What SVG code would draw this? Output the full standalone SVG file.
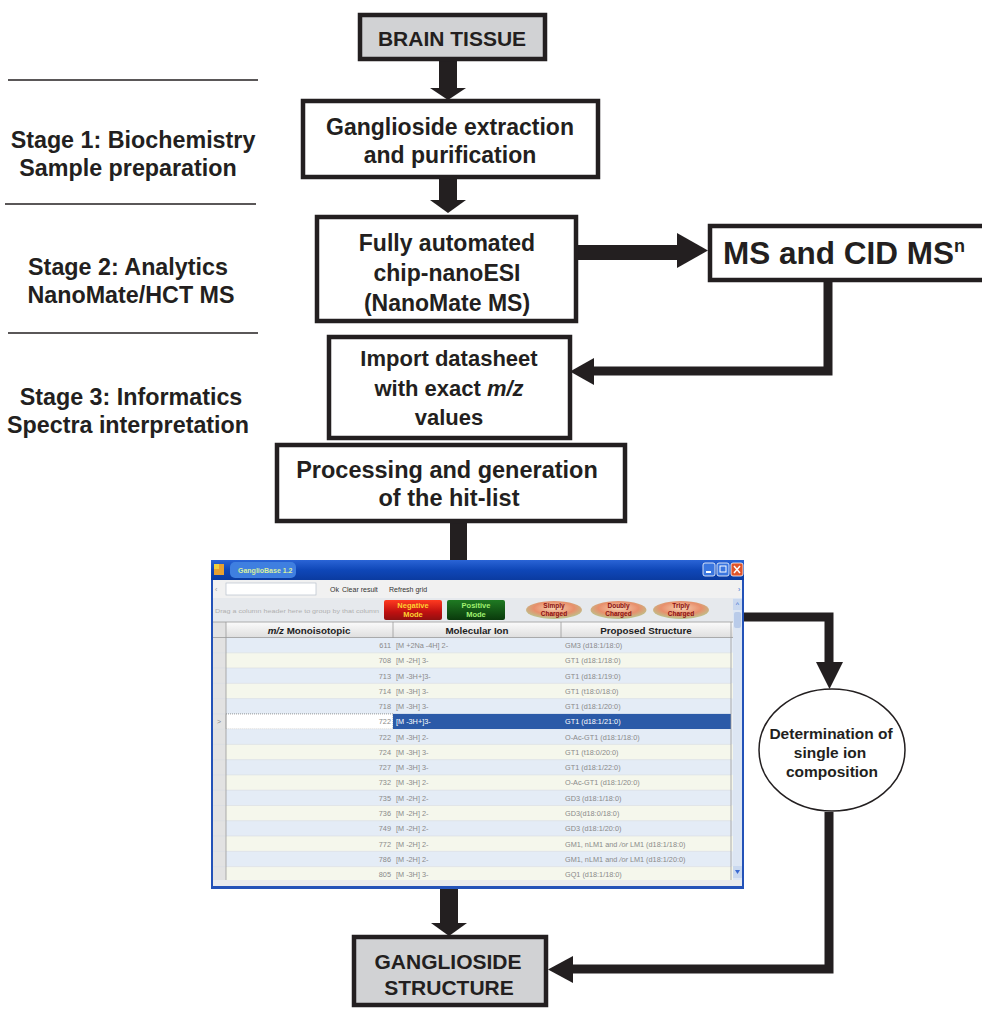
<svg xmlns="http://www.w3.org/2000/svg" width="982" height="1009" viewBox="0 0 982 1009">
<defs>
<style>
.box{fill:#ffffff;stroke:#231f20;stroke-width:4.5}
.gbox{fill:#d1d2d4;stroke:#231f20;stroke-width:4.5}
.t{font-family:"Liberation Sans",Arial,sans-serif;font-weight:bold;fill:#231f20;text-anchor:middle}
.stage{font-family:"Liberation Sans",Arial,sans-serif;font-weight:bold;fill:#231f20;text-anchor:middle;font-size:23.3px}
.sep{stroke:#231f20;stroke-width:1.3}
.con{fill:none;stroke:#231f20;stroke-width:9}
.fill{fill:#231f20}
.ui{font-family:"Liberation Sans",Arial,sans-serif}
.row{font-family:"Liberation Sans",Arial,sans-serif;font-size:7.3px;fill:#8a8a8a}
.rowsel{font-family:"Liberation Sans",Arial,sans-serif;font-size:7.3px;fill:#ffffff}
.hdr{font-family:"Liberation Sans",Arial,sans-serif;font-size:9.8px;font-weight:bold;fill:#222;text-anchor:middle}
.rb{fill:#e4ecf6}
.rc{fill:#f5f7ec}
.rl{stroke:#d6dbe2;stroke-width:0.6}
</style>
<linearGradient id="title" x1="0" y1="0" x2="0" y2="1">
<stop offset="0" stop-color="#2a64d6"/><stop offset="0.5" stop-color="#0f47b8"/><stop offset="1" stop-color="#0b3ba0"/>
</linearGradient>
<linearGradient id="neg" x1="0" y1="0" x2="0" y2="1">
<stop offset="0" stop-color="#ff3a20"/><stop offset="0.6" stop-color="#c01010"/><stop offset="1" stop-color="#901010"/>
</linearGradient>
<linearGradient id="pos" x1="0" y1="0" x2="0" y2="1">
<stop offset="0" stop-color="#1f7a22"/><stop offset="1" stop-color="#0a3a0c"/>
</linearGradient>
<radialGradient id="pill" cx="0.5" cy="0.4" r="0.6">
<stop offset="0" stop-color="#f6d0b0"/><stop offset="0.6" stop-color="#e88f6c"/><stop offset="1" stop-color="#b8c890"/>
</radialGradient>
<linearGradient id="hdrg" x1="0" y1="0" x2="0" y2="1">
<stop offset="0" stop-color="#fbfbfb"/><stop offset="1" stop-color="#dedede"/>
</linearGradient>
</defs>
<rect width="982" height="1009" fill="#ffffff"/>

<g id="stages">
<line class="sep" x1="8" y1="80" x2="258" y2="80"/>
<line class="sep" x1="5" y1="204" x2="256" y2="204"/>
<line class="sep" x1="8" y1="333" x2="258" y2="333"/>
<text class="stage" x="133" y="148">Stage 1: Biochemistry</text>
<text class="stage" x="128" y="176">Sample preparation</text>
<text class="stage" x="128" y="275">Stage 2: Analytics</text>
<text class="stage" x="131" y="303">NanoMate/HCT MS</text>
<text class="stage" x="131" y="405">Stage 3: Informatics</text>
<text class="stage" x="128" y="433">Spectra interpretation</text>
</g>

<g id="connectors">
<rect class="fill" x="439" y="61" width="18" height="28"/>
<polygon class="fill" points="430,88 466,88 448,100"/>
<rect class="fill" x="439" y="179" width="18" height="22"/>
<polygon class="fill" points="430,200 466,200 448,213"/>
<rect class="fill" x="578" y="245" width="100" height="15"/>
<polygon class="fill" points="677,233 677,268 708,250.5"/>
<path class="con" d="M828 282 V371 H590"/>
<polygon class="fill" points="594,358 594,385 570,371.5"/>
<rect class="fill" x="450" y="523" width="17" height="38"/>
<path class="con" d="M744 617 H829 V666"/>
<polygon class="fill" points="816,662 843,662 829.5,689"/>
<path class="con" d="M829 812 V969 H570"/>
<polygon class="fill" points="573,956 573,983 548,969.5"/>
<rect class="fill" x="440" y="889" width="18" height="35"/>
<polygon class="fill" points="431,923 467,923 449,936"/>
</g>

<g id="brain-tissue">
<rect class="gbox" x="360" y="15" width="185" height="44"/>
<text class="t" x="452" y="46" font-size="21">BRAIN TISSUE</text>
</g>

<g id="extraction">
<rect class="box" x="303" y="101" width="295" height="76"/>
<text class="t" x="450" y="135" font-size="23">Ganglioside extraction</text>
<text class="t" x="450" y="163" font-size="23">and purification</text>
</g>

<g id="nanoesi">
<rect class="box" x="317" y="217" width="259" height="104"/>
<text class="t" x="447" y="251" font-size="23">Fully automated</text>
<text class="t" x="447" y="281" font-size="23">chip-nanoESI</text>
<text class="t" x="447" y="311" font-size="23">(NanoMate MS)</text>
</g>

<g id="ms-cid">
<rect class="box" x="710" y="226" width="276" height="54"/>
<text class="t" x="723" y="264" font-size="31.5" style="text-anchor:start">MS and CID MS<tspan font-size="18" dy="-12">n</tspan></text>
</g>

<g id="import">
<rect class="box" x="329" y="337" width="241" height="101"/>
<text class="t" x="449" y="366" font-size="22">Import datasheet</text>
<text class="t" x="449" y="396" font-size="22">with exact <tspan font-style="italic">m/z</tspan></text>
<text class="t" x="449" y="425" font-size="22">values</text>
</g>

<g id="processing">
<rect class="box" x="277" y="445" width="348" height="76"/>
<text class="t" x="447" y="478" font-size="23.5">Processing and generation</text>
<text class="t" x="449" y="506" font-size="23.5">of the hit-list</text>
</g>

<g id="screenshot">
<rect x="211" y="560" width="533" height="329" fill="#2352b8"/>
<rect x="211" y="560" width="533" height="20" fill="url(#title)"/>
<rect x="214" y="564" width="10" height="11" fill="#e8a030"/>
<rect x="214" y="564" width="5" height="5" fill="#f0d040"/>
<rect x="230" y="562" width="66" height="16" rx="5" fill="#3f7fe0"/>
<text class="ui" x="238" y="573" font-size="7" font-weight="bold" fill="#d8f0a0">GanglioBase 1.2</text>
<rect x="703" y="563" width="12" height="13" rx="2" fill="#3a76e0" stroke="#ffffff" stroke-width="0.8"/>
<rect x="706" y="571" width="5" height="2" fill="#ffffff"/>
<rect x="717" y="563" width="12" height="13" rx="2" fill="#3a76e0" stroke="#ffffff" stroke-width="0.8"/>
<rect x="720" y="566" width="6" height="6" fill="none" stroke="#ffffff" stroke-width="1"/>
<rect x="731" y="563" width="12" height="13" rx="2" fill="#e0542a" stroke="#ffffff" stroke-width="0.8"/>
<path d="M734 566 L740 573 M740 566 L734 573" stroke="#ffffff" stroke-width="1.5"/>
<rect x="213" y="580" width="529" height="306" fill="#eef1f5"/>
<rect x="213" y="580" width="529" height="18" fill="#f1f1f1"/>
<text class="ui" x="215" y="592" font-size="7" fill="#999">‹</text>
<rect x="226" y="583" width="90" height="12" fill="#ffffff" stroke="#b8c0cc" stroke-width="0.7"/>
<text class="ui" x="330" y="592" font-size="7" fill="#333">Ok</text>
<text class="ui" x="342" y="592" font-size="7" fill="#333">Clear result</text>
<text class="ui" x="389" y="592" font-size="7" fill="#333">Refresh grid</text>
<text class="ui" x="738" y="592" font-size="7" fill="#3a6ad0">›</text>
<rect x="213" y="598" width="520" height="24" fill="#e6e9ed"/>
<text class="ui" x="215" y="613" font-size="5.5" fill="#b0b0b0" textLength="164" lengthAdjust="spacingAndGlyphs">Drag a column header here to group by that column</text>
<rect x="384" y="600" width="58" height="20" rx="2" fill="url(#neg)"/>
<text class="ui" x="413" y="608" font-size="7.5" font-weight="bold" fill="#ffd030" text-anchor="middle">Negative</text>
<text class="ui" x="413" y="617" font-size="7.5" font-weight="bold" fill="#ffd030" text-anchor="middle">Mode</text>
<rect x="447" y="600" width="58" height="20" rx="2" fill="url(#pos)"/>
<text class="ui" x="476" y="608" font-size="7.5" font-weight="bold" fill="#a0f070" text-anchor="middle">Positive</text>
<text class="ui" x="476" y="617" font-size="7.5" font-weight="bold" fill="#a0f070" text-anchor="middle">Mode</text>
<ellipse cx="554" cy="610" rx="28" ry="9" fill="url(#pill)"/>
<text class="ui" x="554" y="608" font-size="6.5" font-weight="bold" fill="#8a1010" text-anchor="middle">Simply</text>
<text class="ui" x="554" y="616" font-size="6.5" font-weight="bold" fill="#8a1010" text-anchor="middle">Charged</text>
<ellipse cx="618.5" cy="610" rx="28" ry="9" fill="url(#pill)"/>
<text class="ui" x="618.5" y="608" font-size="6.5" font-weight="bold" fill="#8a1010" text-anchor="middle">Doubly</text>
<text class="ui" x="618.5" y="616" font-size="6.5" font-weight="bold" fill="#8a1010" text-anchor="middle">Charged</text>
<ellipse cx="681" cy="610" rx="28" ry="9" fill="url(#pill)"/>
<text class="ui" x="681" y="608" font-size="6.5" font-weight="bold" fill="#8a1010" text-anchor="middle">Triply</text>
<text class="ui" x="681" y="616" font-size="6.5" font-weight="bold" fill="#8a1010" text-anchor="middle">Charged</text>
<rect x="733" y="598" width="9" height="282" fill="#dde6f3"/>
<rect x="733" y="599" width="9" height="11" fill="#c9d8ef"/>
<text class="ui" x="737.5" y="607" font-size="7" fill="#3a6ad0" text-anchor="middle">^</text>
<rect x="734" y="612" width="7" height="16" rx="2" fill="#b9cbe9"/>
<rect x="733" y="866" width="9" height="12" fill="#c9d8ef"/>
<path d="M735 870 L740 870 L737.5 874 Z" fill="#3a6ad0"/>
<rect x="213" y="622" width="520" height="16" fill="url(#hdrg)"/>
<rect x="213" y="622" width="13" height="258" fill="#e2e2e2"/>
<rect x="226" y="637.5" width="507" height="15.3" class="rb"/>
<rect x="226" y="652.8" width="507" height="15.3" class="rc"/>
<rect x="226" y="668.0" width="507" height="15.3" class="rb"/>
<rect x="226" y="683.3" width="507" height="15.3" class="rc"/>
<rect x="226" y="698.6" width="507" height="15.3" class="rb"/>
<rect x="226" y="713.9" width="167" height="15.3" fill="#ffffff" stroke="#555" stroke-width="0.6" stroke-dasharray="1,1"/>
<rect x="393" y="713.9" width="338" height="15.3" fill="#2b5aa8"/>
<rect x="226" y="729.1" width="507" height="15.3" class="rb"/>
<rect x="226" y="744.4" width="507" height="15.3" class="rc"/>
<rect x="226" y="759.7" width="507" height="15.3" class="rb"/>
<rect x="226" y="774.9" width="507" height="15.3" class="rc"/>
<rect x="226" y="790.2" width="507" height="15.3" class="rb"/>
<rect x="226" y="805.5" width="507" height="15.3" class="rc"/>
<rect x="226" y="820.7" width="507" height="15.3" class="rb"/>
<rect x="226" y="836.0" width="507" height="15.3" class="rc"/>
<rect x="226" y="851.3" width="507" height="15.3" class="rb"/>
<rect x="226" y="866.6" width="507" height="13.4" class="rc"/>
<g class="rl">
<line x1="213" y1="652.8" x2="731" y2="652.8"/><line x1="213" y1="668" x2="731" y2="668"/>
<line x1="213" y1="683.3" x2="731" y2="683.3"/><line x1="213" y1="698.6" x2="731" y2="698.6"/>
<line x1="213" y1="713.9" x2="226" y2="713.9"/><line x1="213" y1="729.1" x2="226" y2="729.1"/>
<line x1="213" y1="744.4" x2="731" y2="744.4"/><line x1="213" y1="759.7" x2="731" y2="759.7"/>
<line x1="213" y1="774.9" x2="731" y2="774.9"/><line x1="213" y1="790.2" x2="731" y2="790.2"/>
<line x1="213" y1="805.5" x2="731" y2="805.5"/><line x1="213" y1="820.7" x2="731" y2="820.7"/>
<line x1="213" y1="836" x2="731" y2="836"/><line x1="213" y1="851.3" x2="731" y2="851.3"/>
<line x1="213" y1="866.6" x2="731" y2="866.6"/>
</g>
<g stroke="#9a9a9a" stroke-width="0.8">
<line x1="213" y1="622" x2="733" y2="622"/>
<line x1="213" y1="637.5" x2="733" y2="637.5"/>
<line x1="226" y1="622" x2="226" y2="880"/>
<line x1="393" y1="622" x2="393" y2="638"/>
<line x1="561" y1="622" x2="561" y2="638"/>
<line x1="731" y1="622" x2="731" y2="880"/>
</g>
<text class="hdr" x="309" y="634"><tspan font-style="italic">m/z</tspan> Monoisotopic</text>
<text class="hdr" x="477" y="634">Molecular Ion</text>
<text class="hdr" x="646" y="634">Proposed Structure</text>
<text class="ui" x="217" y="724" font-size="7" fill="#888">&gt;</text>
<g class="row" text-anchor="end">
<text x="391" y="648">611</text><text x="391" y="663.3">708</text><text x="391" y="678.5">713</text>
<text x="391" y="693.8">714</text><text x="391" y="709.1">718</text><text x="391" y="724.4">722</text>
<text x="391" y="739.6">722</text><text x="391" y="754.9">724</text><text x="391" y="770.2">727</text>
<text x="391" y="785.4">732</text><text x="391" y="800.7">735</text><text x="391" y="816">736</text>
<text x="391" y="831.2">749</text><text x="391" y="846.5">772</text><text x="391" y="861.8">786</text>
<text x="391" y="877.1">805</text>
</g>
<g class="row">
<text x="396" y="648">[M +2Na -4H] 2-</text><text x="565" y="648">GM3 (d18:1/18:0)</text>
<text x="396" y="663.3">[M -2H] 3-</text><text x="565" y="663.3">GT1 (d18:1/18:0)</text>
<text x="396" y="678.5">[M -3H+]3-</text><text x="565" y="678.5">GT1 (d18:1/19:0)</text>
<text x="396" y="693.8">[M -3H] 3-</text><text x="565" y="693.8">GT1 (t18:0/18:0)</text>
<text x="396" y="709.1">[M -3H] 3-</text><text x="565" y="709.1">GT1 (d18:1/20:0)</text>
<text x="396" y="739.6">[M -3H] 2-</text><text x="565" y="739.6">O-Ac-GT1 (d18:1/18:0)</text>
<text x="396" y="754.9">[M -3H] 3-</text><text x="565" y="754.9">GT1 (t18:0/20:0)</text>
<text x="396" y="770.2">[M -3H] 3-</text><text x="565" y="770.2">GT1 (d18:1/22:0)</text>
<text x="396" y="785.4">[M -3H] 2-</text><text x="565" y="785.4">O-Ac-GT1 (d18:1/20:0)</text>
<text x="396" y="800.7">[M -2H] 2-</text><text x="565" y="800.7">GD3 (d18:1/18:0)</text>
<text x="396" y="816">[M -2H] 2-</text><text x="565" y="816">GD3(d18:0/18:0)</text>
<text x="396" y="831.2">[M -2H] 2-</text><text x="565" y="831.2">GD3 (d18:1/20:0)</text>
<text x="396" y="846.5">[M -2H] 2-</text><text x="565" y="846.5">GM1, nLM1 and <tspan font-style="italic">/or</tspan> LM1 (d18:1/18:0)</text>
<text x="396" y="861.8">[M -2H] 2-</text><text x="565" y="861.8">GM1, nLM1 and <tspan font-style="italic">/or</tspan> LM1 (d18:1/20:0)</text>
<text x="396" y="877.1">[M -3H] 3-</text><text x="565" y="877.1">GQ1 (d18:1/18:0)</text>
</g>
<g class="rowsel">
<text x="396" y="724.4">[M -3H+]3-</text><text x="565" y="724.4">GT1 (d18:1/21:0)</text>
</g>
<rect x="213" y="880" width="529" height="6" fill="#e8eaed"/>
</g>

<g id="determination">
<ellipse cx="832" cy="750" rx="73" ry="61" fill="#ffffff" stroke="#231f20" stroke-width="1.5"/>
<text class="t" x="831" y="739" font-size="15.5">Determination of</text>
<text class="t" x="830" y="758" font-size="15.5">single ion</text>
<text class="t" x="832" y="777" font-size="15.5">composition</text>
</g>

<g id="ganglioside-structure">
<rect class="gbox" x="354" y="937" width="192" height="68"/>
<text class="t" x="448" y="969" font-size="21">GANGLIOSIDE</text>
<text class="t" x="449" y="995" font-size="21">STRUCTURE</text>
</g>
</svg>
